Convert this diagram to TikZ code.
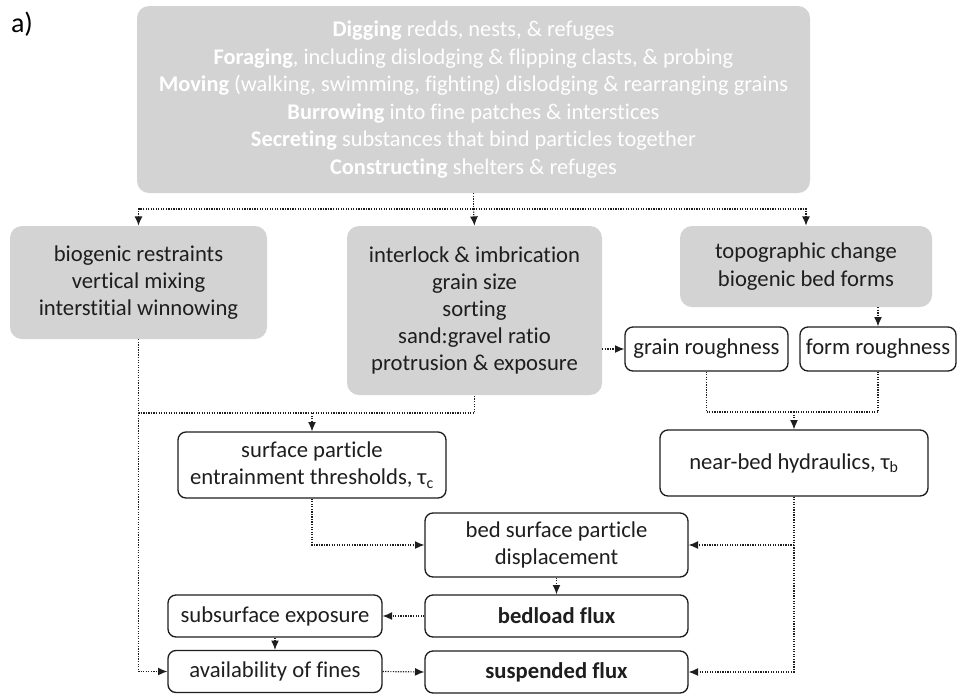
\documentclass[tikz,border=0pt]{standalone}
\usepackage{fontspec}
\setmainfont{Carlito}[Ligatures=NoCommon]
\usetikzlibrary{arrows.meta}

\definecolor{boxgrey}{RGB}{211,211,211}
\definecolor{inkgrey}{RGB}{30,30,30}

\begin{document}
\begin{tikzpicture}[x=0.75pt,y=-0.75pt,        % pixel units
                    >={Latex[length=7pt,width=6pt]}, % arrow tip
                    font=\fontsize{17}{20.4}\selectfont,
                    greybox/.style={rounded corners=9pt,fill=boxgrey,align=center,inner sep=2pt,text=inkgrey},
                    whitebox/.style={rounded corners=6pt,draw=inkgrey,line width=1pt,fill=white,align=center,inner sep=2pt,text=inkgrey},
                    conn/.style={densely dotted,line width=0.9pt,draw=inkgrey}
                    ]

\useasboundingbox (0,0) rectangle (961,694);

\node (lbl) at (22,24) {\fontsize{21}{24}\selectfont a)};

% Activities
\node[greybox,text=white,minimum width=504.75pt,minimum height=140.25pt,font=\fontsize{16.8}{20.6}\selectfont] (acts) at (473.5,99.5)
 {\textbf{Digging} redds, nests, \& refuges\\
  \textbf{Foraging}, including dislodging \& flipping clasts, \& probing\\
  \textbf{Moving} (walking, swimming, fighting) dislodging \& rearranging grains\\
  \textbf{Burrowing} into fine patches \& interstices\\
  \textbf{Secreting} substances that bind particles together\\
  \textbf{Constructing} shelters \& refuges};

% Effects
\node[greybox,minimum width=192.75pt,minimum height=84.75pt] (restr) at (138.5,282.5)
 {biogenic restraints\\vertical mixing\\interstitial winnowing};
\node[greybox,minimum width=191.25pt,minimum height=126.75pt] (grain) at (474.5,310.5)
 {interlock \& imbrication\\grain size\\sorting\\sand:gravel ratio\\protrusion \& exposure};
\node[greybox,minimum width=189pt,minimum height=60.75pt] (topo) at (806,266.5)
 {topographic change\\biogenic bed forms};

\coordinate (split) at (473.5,209);
\draw[conn] (acts.south) -- (split);
\draw[conn,->] (split) -| (restr.north);
\draw[conn,->] (split) -- (grain.north);
\draw[conn,->] (split) -| (topo.north);

% Roughness
\node[whitebox,minimum width=122.25pt,minimum height=33pt] (grainr) at (706.5,349) {grain roughness};
\node[whitebox,minimum width=117pt,minimum height=33pt] (formr) at (878,349) {form roughness};
\draw[conn,->] (grain.east |- grainr.west) -- (grainr.west);
\draw[conn,->] (topo.south -| formr.north) -- (formr.north);

\node[whitebox,minimum width=201pt,minimum height=49.5pt] (nearbed) at (794,463) {near-bed hydraulics, τ\textsubscript{b}};
\coordinate (rough) at (794,412);
\draw[conn] (grainr.south) |- (rough);
\draw[conn] (formr.south) |- (rough);
\draw[conn,->] (rough) -- (nearbed.north);

% Thresholds
\node[whitebox,minimum width=201pt,minimum height=49.5pt] (thresh) at (312,465)
 {surface particle\\entrainment thresholds, τ\textsubscript{c}};
\coordinate (mix) at (312,413);
\draw[conn] (restr.south) |- (mix) -| (grain.south);
\draw[conn,->] (mix) -- (thresh.north);

% Displacement and flux
\node[whitebox,minimum width=197.25pt,minimum height=48pt] (disp) at (556.5,545) {bed surface particle\\displacement};
\node[whitebox,minimum width=197.25pt,minimum height=31.5pt] (bedload) at (556.5,616) {\textbf{bedload flux}};
\node[whitebox,minimum width=197.25pt,minimum height=31.5pt] (susp) at (556.5,672) {\textbf{suspended flux}};
\node[whitebox,minimum width=160.5pt,minimum height=31.5pt] (subsurf) at (275,616) {subsurface exposure};
\node[whitebox,minimum width=160.5pt,minimum height=31.5pt] (fines) at (275,671.5) {availability of fines};

\draw[conn,->] (thresh.south) |- (disp.west);
\draw[conn,->] (nearbed.south) |- (disp.east);
\draw[conn,->] (nearbed.south) |- (susp.east);
\draw[conn,->] (disp.south) -- (bedload.north);
\draw[conn,->] (bedload.west) -- (subsurf.east);
\draw[conn,->] (subsurf.south) -- (fines.north);
\draw[conn,->] (restr.south) |- (fines.west);
\draw[conn,->] (fines.east) -- (susp.west);

\end{tikzpicture}
\end{document}
